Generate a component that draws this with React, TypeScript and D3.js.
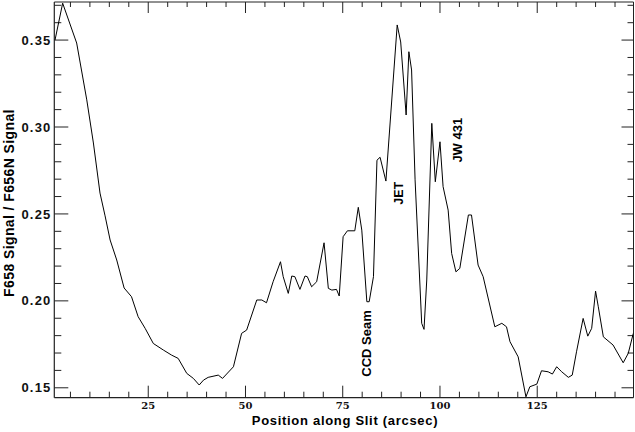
import React from "react";
import * as d3 from "d3";

const positions = [
  1.03, 3.0, 6.6, 9.2, 10.9, 12.6, 13.9, 15.2, 16.9, 18.8, 20.7, 22.4, 24.2, 26.3, 28.9, 31.0, 32.7, 34.9, 36.6, 38.1,
  39.2, 40.4, 43.0, 44.1, 46.9, 49.0, 50.3, 52.9, 54.2, 55.4, 57.1, 59.0, 59.7, 61.0, 61.9, 62.7, 64.0, 65.3, 65.9, 67.0,
  68.3, 70.2, 71.3, 72.2, 73.4, 74.1, 75.1, 76.2, 78.1, 79.0, 79.9, 81.2, 81.8, 82.9, 83.8, 84.6, 86.1, 89.0, 89.9, 91.3,
  92.0, 92.7, 93.6, 95.3, 95.9, 96.6, 97.9, 98.8, 100.0, 100.8, 102.1, 103.0, 104.1, 105.1, 107.3, 108.1, 109.8, 111.1, 114.1, 115.9,
  117.1, 118.0, 120.1, 122.1, 123.1, 124.9, 126.1, 127.8, 128.9, 130.0, 131.3, 133.0, 134.0, 135.1, 136.8, 138.0, 139.0, 140.0, 140.7, 142.0,
  144.5, 147.1, 148.4, 149.7,
];
const ratios = [
  0.35, 0.3712, 0.3483, 0.3156, 0.2908, 0.262, 0.2489, 0.235, 0.2235, 0.2074, 0.2024, 0.1909, 0.1842, 0.1755, 0.1717, 0.1688, 0.1669, 0.1583, 0.1554, 0.1516,
  0.1544, 0.156, 0.1573, 0.1554, 0.1621, 0.1813, 0.1832, 0.2005, 0.2005, 0.1989, 0.211, 0.2225, 0.2139, 0.2043, 0.2143, 0.2139, 0.2066, 0.2143, 0.2139, 0.2081,
  0.211, 0.2334, 0.2072, 0.2062, 0.2066, 0.2028, 0.2369, 0.2403, 0.2403, 0.2538, 0.2407, 0.1995, 0.1995, 0.2139, 0.2809, 0.2826, 0.2689, 0.3587, 0.3489, 0.3069,
  0.3433, 0.3328, 0.2696, 0.1871, 0.1836, 0.212, 0.3021, 0.2685, 0.2915, 0.2657, 0.2522, 0.2273, 0.2167, 0.2187, 0.2494, 0.2494, 0.2206, 0.2139, 0.1851, 0.1871,
  0.1851, 0.1765, 0.1678, 0.1448, 0.1506, 0.1521, 0.1598, 0.1592, 0.1579, 0.1621, 0.1592, 0.156, 0.1573, 0.1707, 0.1899, 0.1797, 0.1842, 0.2056, 0.1966, 0.1793,
  0.1746, 0.1644, 0.1698, 0.1813,
];
const xMajorTicks = [25, 50, 75, 100, 125];
const yMajorTicks = [0.15, 0.2, 0.25, 0.3, 0.35];
const annotations = [
  { text: "CCD Seam", x: 80.9, y: 0.1755 },
  { text: "JET", x: 89.2, y: 0.2619 },
  { text: "JW 431", x: 104.4, y: 0.2924 },
];

const W = 635, H = 432;
const L = 54.3, R = 633.5, T = 2, B = 397.7;

export default function App() {
  const x = d3.scaleLinear().domain([0.85, 149.75]).range([L, R]);
  const y = d3.scaleLinear().domain([0.1443, 0.3719]).range([B, T]);
  const data = positions.map((p, i) => [p, ratios[i]] as [number, number]);
  const line = d3.line<[number, number]>().x(d => x(d[0])).y(d => y(d[1]));
  const xMinor = d3.range(5, 150, 5).filter(v => !xMajorTicks.includes(v));
  const yMinor = d3.range(0.15, 0.371, 0.01).map(v => +v.toFixed(2)).filter(v => !yMajorTicks.some(m => Math.abs(m - v) < 1e-6));
  const ax = "#222";
  const sans = "'Liberation Sans', Arial, sans-serif";
  return (
    <svg width={W} height={H} style={{ position: "absolute", left: 0, top: 0, background: "#fff" }}>
      <defs>
        <clipPath id="plot"><rect x={L} y={T} width={R - L} height={B - T} /></clipPath>
      </defs>
      <rect x={0} y={0} width={W} height={H} fill="#fff" />
      <line x1={L} x2={R} y1={T} y2={T} stroke={ax} strokeWidth={1} />
      <line x1={L} x2={R} y1={B} y2={B} stroke={ax} strokeWidth={1.2} />
      <line x1={L} x2={L} y1={T} y2={B} stroke={ax} strokeWidth={1.2} />
      <line x1={R} x2={R} y1={T} y2={B} stroke={ax} strokeWidth={1} />
      {xMajorTicks.map(v => (
        <g key={"xm" + v}>
          <line x1={x(v)} x2={x(v)} y1={B} y2={B - 12} stroke={ax} />
          <line x1={x(v)} x2={x(v)} y1={T} y2={T + 11} stroke={ax} />
          <text x={x(v)} y={409} textAnchor="middle" fontFamily="'DejaVu Serif', serif" fontWeight="bold" fontSize={10} fill="#111">{v}</text>
        </g>
      ))}
      {xMinor.map(v => (
        <g key={"xn" + v}>
          <line x1={x(v)} x2={x(v)} y1={B} y2={B - 6} stroke={ax} />
          <line x1={x(v)} x2={x(v)} y1={T} y2={T + 5} stroke={ax} />
        </g>
      ))}
      {yMajorTicks.map(v => (
        <g key={"ym" + v}>
          <line x1={L} x2={L + 14} y1={y(v)} y2={y(v)} stroke={ax} />
          <line x1={R} x2={R - 12} y1={y(v)} y2={y(v)} stroke={ax} />
          <text x={51.5} y={y(v) + 4.6} textAnchor="end" fontFamily={sans} fontWeight="bold" fontSize={13} letterSpacing={1.2} fill="#111">{v.toFixed(2)}</text>
        </g>
      ))}
      {yMinor.map(v => (
        <g key={"yn" + v}>
          <line x1={L} x2={L + 7} y1={y(v)} y2={y(v)} stroke={ax} />
          <line x1={R} x2={R - 6} y1={y(v)} y2={y(v)} stroke={ax} />
        </g>
      ))}
      <path d={line(data) || ""} fill="none" stroke="#000" strokeWidth={1} clipPath="url(#plot)" />
      {annotations.map(a => (
        <text key={a.text} transform={`translate(${x(a.x) + 5},${y(a.y)}) rotate(-90)`} textAnchor="middle"
          fontFamily={sans} fontWeight="bold" fontSize={a.text === "JET" ? 12.5 : 13} fill="#000">{a.text}</text>
      ))}
      <text x={345} y={424.5} textAnchor="middle" fontFamily={sans} fontWeight="bold" fontSize={13} letterSpacing={0.7} fill="#000">Position along Slit (arcsec)</text>
      <text transform="translate(13.5,203) rotate(-90)" textAnchor="middle" fontFamily={sans} fontWeight="bold" fontSize={14} letterSpacing={0.4} fill="#000">F658 Signal / F656N Signal</text>
    </svg>
  );
}
